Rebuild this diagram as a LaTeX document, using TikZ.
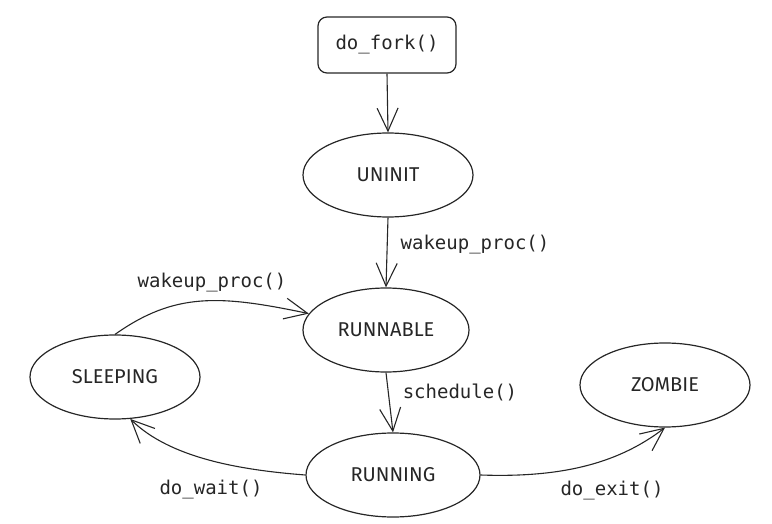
\documentclass[tikz,border=0pt]{standalone}
\usepackage{fontspec}
\setmonofont{DejaVu Sans Mono}
\newfontfamily\handfont{Fira Sans}
\usetikzlibrary{arrows.meta,shapes.geometric}
\begin{document}
\begin{tikzpicture}[x=1pt,y=-1pt,
  state/.style={ellipse, draw=black!85, line width=1.2pt, minimum width=170pt, minimum height=84pt, inner sep=0pt,
    font=\handfont\fontsize{20}{20}\selectfont, text=black!85},
  codebox/.style={rectangle, rounded corners=9pt, draw=black!85, line width=1.2pt, minimum width=138pt, minimum height=56pt,
    inner sep=0pt, font=\ttfamily\fontsize{19}{19}\selectfont, text=black!85},
  lbl/.style={inner sep=0pt, font=\ttfamily\fontsize{19}{19}\selectfont, text=black!85},
  arr/.style={draw=black!85, line width=1.1pt, -{Straight Barb[length=23pt,width=21pt,line width=1.1pt]}}
]
\path[use as bounding box] (0,0) rectangle (772,524);

\node[codebox] (fork) at (387,45) {do\_fork()};
\node[state] (uninit) at (388,175) {UNINIT};
\node[state, minimum width=166pt] (runnable) at (386,330) {RUNNABLE};
\node[state] (sleeping) at (115,377) {SLEEPING};
\node[state, minimum width=174pt] (running) at (393,475) {RUNNING};
\node[state] (zombie) at (665,385) {ZOMBIE};

\draw[arr] (fork.south) -- (uninit.north);
\draw[arr] (uninit.south) -- (runnable.north);
\draw[arr] (runnable.south) -- (running.north);
\draw[arr] (sleeping.north) .. controls (175,292) and (220,295) .. (runnable.168);
\draw[arr] (running.west) .. controls (240,470) and (170,458) .. (sleeping.290);
\draw[arr] (running.east) .. controls (565,478) and (620,462) .. (zombie.south);

\node[lbl] (l1) at (475,245) {wakeup\_proc()};
\node[lbl] (l2) at (212,283) {wakeup\_proc()};
\node[lbl] (l3) at (460,392) {schedule()};
\node[lbl] (l4) at (211,490) {do\_wait()};
\node[lbl] (l5) at (612,491) {do\_exit()};
\end{tikzpicture}
\end{document}
